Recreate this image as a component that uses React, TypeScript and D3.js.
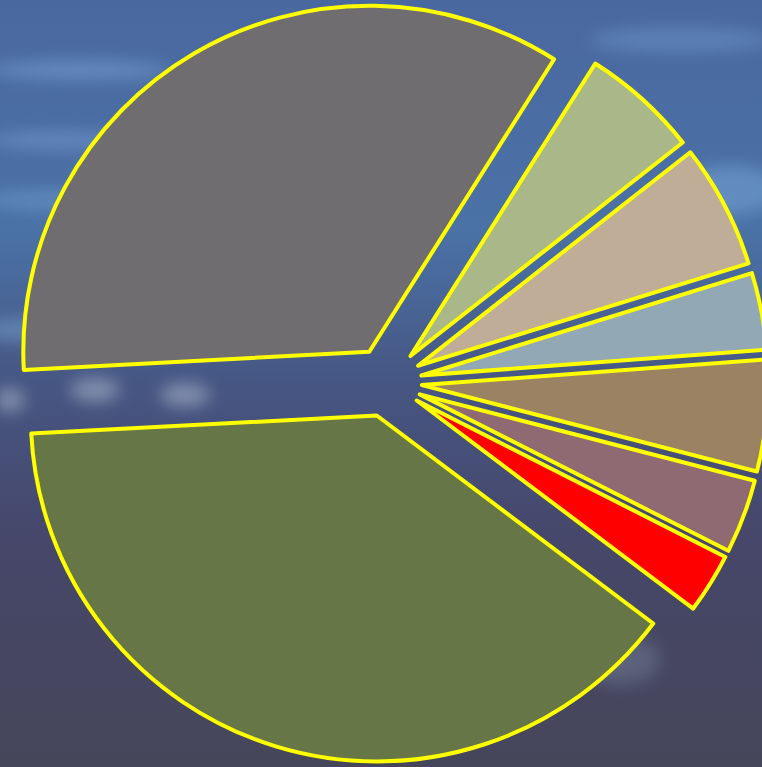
import React from "react";
import * as d3 from "d3";

const categories = ["A", "B", "C", "D", "E", "F", "G", "H"];
const values = [34.8, 5.45, 5.8, 3.6, 5.2, 3.45, 2.8, 38.9];
const colors = ["#6f6d70", "#a9b789", "#bfad97", "#93a8b5", "#9b8262", "#8f6a73", "#ff0000", "#677646"];

const width = 762;
const height = 767;
const cx = 387;
const cy = 382;
const radius = 346;
const explode = 35;

export default function App() {
  const pie = d3
    .pie<number>()
    .sort(null)
    .value((d) => d)
    .startAngle((267 * Math.PI) / 180)
    .endAngle(((267 + 360) * Math.PI) / 180);
  const arcs = pie(values);
  const arc = d3.arc<d3.PieArcDatum<number>>().innerRadius(0).outerRadius(radius);

  return (
    <svg
      width={width}
      height={height}
      style={{ position: "absolute", left: 0, top: 0, display: "block" }}
    >
      <defs>
        <linearGradient id="bg" x1="0" y1="0" x2="0" y2="1">
          <stop offset="0" stopColor="#4a68a0" />
          <stop offset="0.3" stopColor="#4a72a6" />
          <stop offset="0.5" stopColor="#465683" />
          <stop offset="0.7" stopColor="#46476a" />
          <stop offset="1" stopColor="#46465a" />
        </linearGradient>
        <filter id="blur" x="-50%" y="-50%" width="200%" height="200%">
          <feGaussianBlur stdDeviation="8" />
        </filter>
      </defs>
      <rect width={width} height={height} fill="url(#bg)" />
      {/* cloud streaks */}
      <g filter="url(#blur)" opacity={0.4}>
        <ellipse cx={80} cy={70} rx={90} ry={10} fill="#8ab8ea" />
        <ellipse cx={60} cy={140} rx={70} ry={8} fill="#8ab8ea" />
        <ellipse cx={60} cy={200} rx={80} ry={10} fill="#7eaee0" />
        <ellipse cx={40} cy={330} rx={70} ry={12} fill="#8ab4de" />
        <ellipse cx={680} cy={40} rx={90} ry={12} fill="#7aa6d8" />
        <ellipse cx={730} cy={190} rx={50} ry={25} fill="#86b8e8" />
        <ellipse cx={620} cy={660} rx={40} ry={25} fill="#7a8aa0" />
      </g>
      <g fill="#c8d2e0" opacity={0.45} filter="url(#blur)">
        <ellipse cx={95} cy={390} rx={25} ry={12} />
        <ellipse cx={185} cy={395} rx={25} ry={12} />
        <ellipse cx={10} cy={400} rx={15} ry={12} />
      </g>
      <g>
        {arcs.map((a, i) => {
          const mid = (a.startAngle + a.endAngle) / 2;
          const dx = Math.sin(mid) * explode;
          const dy = -Math.cos(mid) * explode;
          return (
            <path
              key={categories[i]}
              d={arc(a) ?? ""}
              transform={`translate(${cx + dx},${cy + dy})`}
              fill={colors[i]}
              stroke="#ffff00"
              strokeWidth={4}
              strokeLinejoin="round"
            />
          );
        })}
      </g>
    </svg>
  );
}
